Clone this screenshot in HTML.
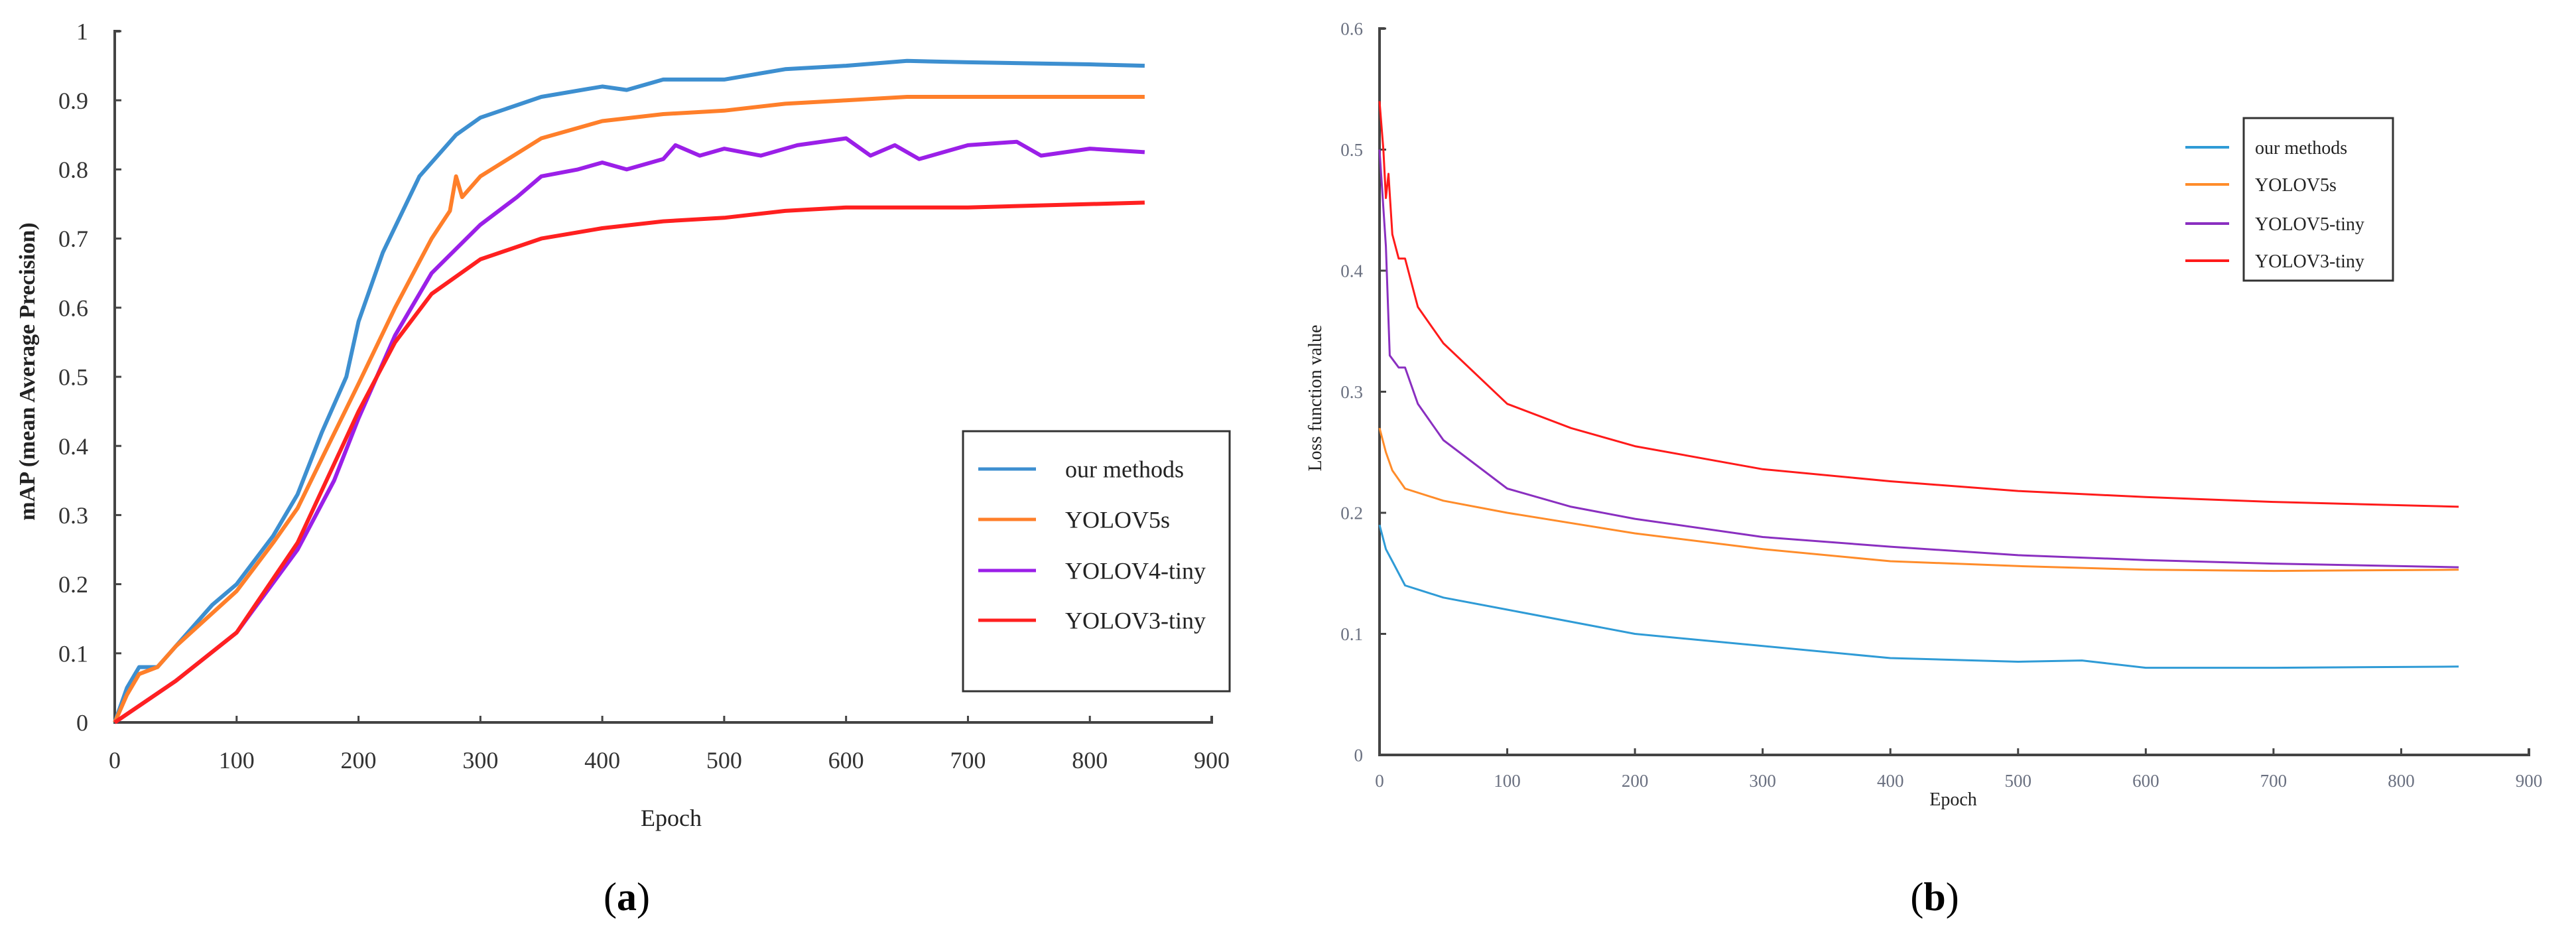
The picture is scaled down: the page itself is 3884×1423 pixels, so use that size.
<!DOCTYPE html>
<html><head><meta charset="utf-8"><style>
html,body{margin:0;padding:0;background:#fff;}
svg{display:block;}
</style></head><body>
<svg id="fig" width="3884" height="1423" viewBox="0 0 3884 1423" xmlns="http://www.w3.org/2000/svg">
<rect width="3884" height="1423" fill="#fff"/>
<g id="chartA"></g>
<g id="chartB"></g>
</svg>
<script>
// ---- Chart (a) data ----
const aXTicks = [0,100,200,300,400,500,600,700,800,900];
const aYTicks = [0,0.1,0.2,0.3,0.4,0.5,0.6,0.7,0.8,0.9,1];
const aYLabels = ["0","0.1","0.2","0.3","0.4","0.5","0.6","0.7","0.8","0.9","1"];
const aOurX = [0,10,20,35,50,80,100,130,150,170,190,200,220,250,280,300,350,400,420,450,500,550,600,650,700,800,845];
const aOurY = [0,0.05,0.08,0.08,0.11,0.17,0.2,0.27,0.33,0.42,0.5,0.58,0.68,0.79,0.85,0.875,0.905,0.92,0.915,0.93,0.93,0.945,0.95,0.957,0.955,0.952,0.95];
const aV5sX = [0,10,20,35,50,100,130,150,175,200,230,260,275,280,285,300,350,400,450,500,550,600,650,700,845];
const aV5sY = [0,0.04,0.07,0.08,0.11,0.19,0.26,0.31,0.40,0.49,0.6,0.7,0.74,0.79,0.76,0.79,0.845,0.87,0.88,0.885,0.895,0.9,0.905,0.905,0.905];
const aV4X = [0,50,100,150,180,200,230,260,300,330,350,380,400,420,450,460,480,500,530,560,600,620,640,660,700,740,760,800,845];
const aV4Y = [0,0.06,0.13,0.25,0.35,0.44,0.56,0.65,0.72,0.76,0.79,0.80,0.81,0.80,0.815,0.835,0.82,0.83,0.82,0.835,0.845,0.82,0.835,0.815,0.835,0.84,0.82,0.83,0.825];
const aV3X = [0,50,100,150,200,230,260,300,350,400,450,500,550,600,700,845];
const aV3Y = [0,0.06,0.13,0.26,0.45,0.55,0.62,0.67,0.70,0.715,0.725,0.73,0.74,0.745,0.745,0.752];
const aNames = ["our methods","YOLOV5s","YOLOV4-tiny","YOLOV3-tiny"];
// ---- Chart (b) data ----
const bXTicks = [0,100,200,300,400,500,600,700,800,900];
const bYTicks = [0,0.1,0.2,0.3,0.4,0.5,0.6];
const bYLabels = ["0","0.1","0.2","0.3","0.4","0.5","0.6"];
const bOurX = [0,5,10,20,50,100,200,300,400,500,550,600,700,845];
const bOurY = [0.19,0.17,0.16,0.14,0.13,0.12,0.10,0.09,0.08,0.077,0.078,0.072,0.072,0.073];
const bV5sX = [0,5,10,20,50,100,200,300,400,500,600,700,845];
const bV5sY = [0.27,0.25,0.235,0.22,0.21,0.2,0.183,0.17,0.16,0.156,0.153,0.152,0.153];
const bV5tX = [0,5,8,15,20,30,50,100,150,200,300,400,500,600,700,845];
const bV5tY = [0.5,0.42,0.33,0.32,0.32,0.29,0.26,0.22,0.205,0.195,0.18,0.172,0.165,0.161,0.158,0.155];
const bV3X = [0,3,5,7,10,15,20,30,50,100,150,200,300,400,500,600,700,845];
const bV3Y = [0.54,0.50,0.46,0.48,0.43,0.41,0.41,0.37,0.34,0.29,0.27,0.255,0.236,0.226,0.218,0.213,0.209,0.205];
const bNames = ["our methods","YOLOV5s","YOLOV5-tiny","YOLOV3-tiny"];

const NS="http://www.w3.org/2000/svg";
function mk(parent,tag,attrs,text){const e=document.createElementNS(NS,tag);for(const k in attrs)e.setAttribute(k,attrs[k]);if(text!==undefined)e.textContent=text;parent.appendChild(e);return e;}

function drawChart(g,cfg){
  const sx=v=>cfg.x0+(v-0)/900*(cfg.x1-cfg.x0);
  const sy=v=>cfg.y0-(v/cfg.ymax)*(cfg.y0-cfg.y1);
  // axes
  const ax=mk(g,'path',{d:`M${cfg.x0+8} ${cfg.y1}H${cfg.x0}V${cfg.y0}H${cfg.x1}V${cfg.y0-10}`,fill:'none',stroke:'#444','stroke-width':cfg.aw});
  
  
  cfg.yTicks.forEach((t,i)=>{
    const tk=mk(g,'line',{x1:cfg.x0,x2:cfg.x0+10,y1:sy(t),y2:sy(t),stroke:'#444','stroke-width':3});
    
    
    const lb=mk(g,'text',{x:cfg.ylx,y:sy(t)+cfg.fs*0.35,'text-anchor':'end','font-family':'Liberation Serif, serif','font-size':cfg.fs,fill:cfg.tc},cfg.yLabels[i]);
    
    
  });
  cfg.xTicks.forEach(t=>{
    const tk=mk(g,'line',{x1:sx(t),x2:sx(t),y1:cfg.y0,y2:cfg.y0-10,stroke:'#444','stroke-width':3});
    
    
    const lb=mk(g,'text',{x:sx(t),y:cfg.xly,'text-anchor':'middle','font-family':'Liberation Serif, serif','font-size':cfg.fs,fill:cfg.tc},String(t));
    
    
  });
  cfg.series.forEach((s,i)=>{
    const pts=s.x.map((v,j)=>sx(v).toFixed(1)+','+sy(s.y[j]).toFixed(1)).join(' ');
    const pl=mk(g,'polyline',{points:pts,fill:'none',stroke:s.c,'stroke-width':cfg.lw,'stroke-linejoin':'round'});
    
    
  });
  // legend
  const L=cfg.leg;
  const lb=mk(g,'rect',{x:L.x,y:L.y,width:L.w,height:L.h,fill:'#fff',stroke:'#333','stroke-width':3});
  
  
  cfg.series.forEach((s,i)=>{
    const yy=L.ys[i];
    const ln=mk(g,'line',{x1:L.lx1,x2:L.lx2,y1:yy,y2:yy,stroke:s.c,'stroke-width':L.lw});
    
    
    const tx=mk(g,'text',{x:L.tx,y:yy+L.fs*0.35,'font-family':'Liberation Serif, serif','font-size':L.fs,fill:'#222'},cfg.names[i]);
    
    
  });
  const xt=mk(g,'text',{x:cfg.xt[0],y:cfg.xt[1],'text-anchor':'middle','font-family':'Liberation Serif, serif','font-size':cfg.xtfs,fill:'#222'},'Epoch');
  
  
  const yt=mk(g,'text',{x:0,y:0,transform:`translate(${cfg.yt[0]},${cfg.yt[1]}) rotate(-90)`,'text-anchor':'middle','font-family':'Liberation Serif, serif','font-size':cfg.ytfs,'font-weight':cfg.ytw,fill:'#222'},cfg.ytText);
  
  
  const cap=mk(g,'text',{x:cfg.cap[0],y:cfg.cap[1],'text-anchor':'middle','font-family':'Liberation Serif, serif','font-size':60,fill:'#000'},'');
  
  
  mk(cap,'tspan',{},'(');mk(cap,'tspan',{'font-weight':'bold'},cfg.capL);mk(cap,'tspan',{},')');
}

drawChart(document.getElementById('chartA'),{
  x0:173,x1:1827,y0:1089,y1:47,ymax:1,aw:4,lw:6,fs:36,tc:'#333',ylx:133,xly:1158,
  xTicks:aXTicks,yTicks:aYTicks,yLabels:aYLabels,names:aNames,
  series:[{x:aOurX,y:aOurY,c:'#3d8fd0'},{x:aV5sX,y:aV5sY,c:'#ff7f2a'},{x:aV4X,y:aV4Y,c:'#9b1fe8'},{x:aV3X,y:aV3Y,c:'#ff2020'}],
  leg:{x:1452,y:650,w:402,h:392,lx1:1475,lx2:1562,tx:1606,ys:[707,783,860,935],lw:5,fs:36},
  xt:[1012,1245],xtfs:36,yt:[52,560],ytfs:34,ytw:'bold',ytText:'mAP  (mean Average Precision)',
  cap:[945,1372],capL:'a'
});
drawChart(document.getElementById('chartB'),{
  x0:2080,x1:3813,y0:1138,y1:43,ymax:0.6,aw:4,lw:3,fs:27,tc:'#6a7080',ylx:2055,xly:1186,
  xTicks:bXTicks,yTicks:bYTicks,yLabels:bYLabels,names:bNames,
  series:[{x:bOurX,y:bOurY,c:'#2f9bd6'},{x:bV5sX,y:bV5sY,c:'#ff8c2a'},{x:bV5tX,y:bV5tY,c:'#8a2fc0'},{x:bV3X,y:bV3Y,c:'#ff1a1a'}],
  leg:{x:3383,y:178,w:225,h:245,lx1:3295,lx2:3361,tx:3400,ys:[222,278,337,393],lw:4,fs:28},
  xt:[2945,1214],xtfs:28,yt:[1992,600],ytfs:28,ytw:'normal',ytText:'Loss function value',
  cap:[2917,1372],capL:'b'
});
</script>
</body></html>
